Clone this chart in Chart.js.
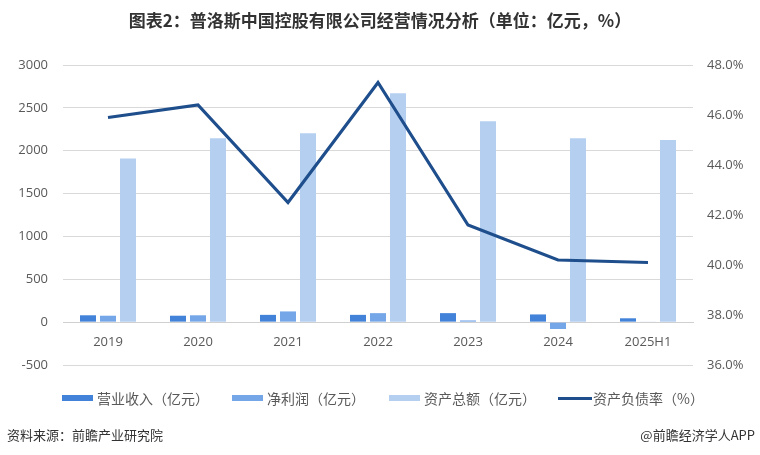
<!DOCTYPE html>
<html>
<head>
<meta charset="utf-8">
<script src="https://cdn.jsdelivr.net/npm/chart.js@4/dist/chart.umd.min.js"></script>
<style>
  html, body { margin: 0; padding: 0; background: #fff; }
  #wrap { position: relative; width: 760px; height: 455px; overflow: hidden; font-family: "Noto Sans CJK SC", "Noto Sans", sans-serif; }
  #c { position: absolute; left: 0; top: 0; }
  .title { position: absolute; left: 0; width: 760px; top: 8px; text-align: center; font-size: 17px; font-weight: bold; color: #333; line-height: 24px; }
  .leg { position: absolute; top: 389px; height: 18px; font-size: 14px; color: #595959; line-height: 18px; white-space: nowrap; }
  .leg i { position: absolute; left: 0; top: 6px; width: 31px; height: 6px; }
  .leg span { position: absolute; left: 35px; top: 0; }
  .foot { position: absolute; top: 426px; font-size: 13px; color: #333; line-height: 18px; white-space: nowrap; }
</style>
</head>
<body>
<div id="wrap">
  <canvas id="c" width="760" height="455"></canvas>
  <div class="title">图表2：普洛斯中国控股有限公司经营情况分析（单位：亿元，%）</div>
  <div class="leg" style="left:62px"><i style="background:#4282d8"></i><span>营业收入（亿元）</span></div>
  <div class="leg" style="left:232px"><i style="background:#75a6e8"></i><span>净利润（亿元）</span></div>
  <div class="leg" style="left:389px"><i style="background:#b5cff1"></i><span>资产总额（亿元）</span></div>
  <div class="leg" style="left:558px"><i style="background:#1f4e8c;height:3px;top:8px;width:34px"></i><span style="left:35px">资产负债率（%）</span></div>
  <div class="foot" style="left:7px">资料来源：前瞻产业研究院</div>
  <div class="foot" style="right:5px">@前瞻经济学人APP</div>
</div>
<script>
const categories = ["2019", "2020", "2021", "2022", "2023", "2024", "2025H1"];
const revenue = [80, 75, 85, 85, 105, 90, 45];
const netProfit = [75, 80, 125, 105, 20, -80, 5];
const totalAssets = [1910, 2145, 2205, 2670, 2345, 2145, 2125];
const debtRatio = [45.9, 46.4, 42.5, 47.3, 41.6, 40.2, 40.1];
const leftTicks = { min: -500, max: 3000, step: 500 };
const rightTicks = { min: 36, max: 48, step: 2 };

const tickFont = { family: "'Open Sans', 'Noto Sans', sans-serif", size: 13 };

new Chart(document.getElementById('c'), {
  data: {
    labels: categories,
    datasets: [
      { type: 'line', label: '资产负债率（%）', data: debtRatio, yAxisID: 'y2', borderColor: '#1f4e8c', backgroundColor: '#1f4e8c', borderWidth: 3.2, pointRadius: 0, tension: 0, order: 0 },
      { type: 'bar', label: '营业收入（亿元）', data: revenue, yAxisID: 'y', backgroundColor: '#4282d8', order: 1 },
      { type: 'bar', label: '净利润（亿元）', data: netProfit, yAxisID: 'y', backgroundColor: '#75a6e8', order: 1 },
      { type: 'bar', label: '资产总额（亿元）', data: totalAssets, yAxisID: 'y', backgroundColor: '#b5cff1', order: 1 }
    ]
  },
  options: {
    responsive: false,
    animation: false,
    datasets: { bar: { categoryPercentage: 0.667, barPercentage: 0.8 } },
    layout: { padding: { top: 65, bottom: 90, left: 0, right: 0 } },
    plugins: { legend: { display: false }, tooltip: { enabled: false }, title: { display: false } },
    scales: {
      x: {
        position: { y: 0 },
        grid: { display: false, drawTicks: false },
        border: { display: true, color: '#d0d0d0', width: 1 },
        ticks: { color: '#595959', font: tickFont, padding: 12, maxRotation: 0, autoSkip: false }
      },
      y: {
        position: 'left',
        min: leftTicks.min, max: leftTicks.max,
        grid: { color: '#d9d9d9', drawTicks: false },
        border: { display: false },
        ticks: { stepSize: leftTicks.step, color: '#595959', font: tickFont, padding: 15, callback: v => String(v) },
        afterFit(s) { s.width = 63; }
      },
      y2: {
        position: 'right',
        min: rightTicks.min, max: rightTicks.max,
        grid: { display: false, drawTicks: false },
        border: { display: false },
        ticks: { stepSize: rightTicks.step, color: '#595959', font: tickFont, padding: 14, callback: v => v.toFixed(1) + '%' },
        afterFit(s) { s.width = 67; }
      }
    }
  }
});
</script>
</body>
</html>
